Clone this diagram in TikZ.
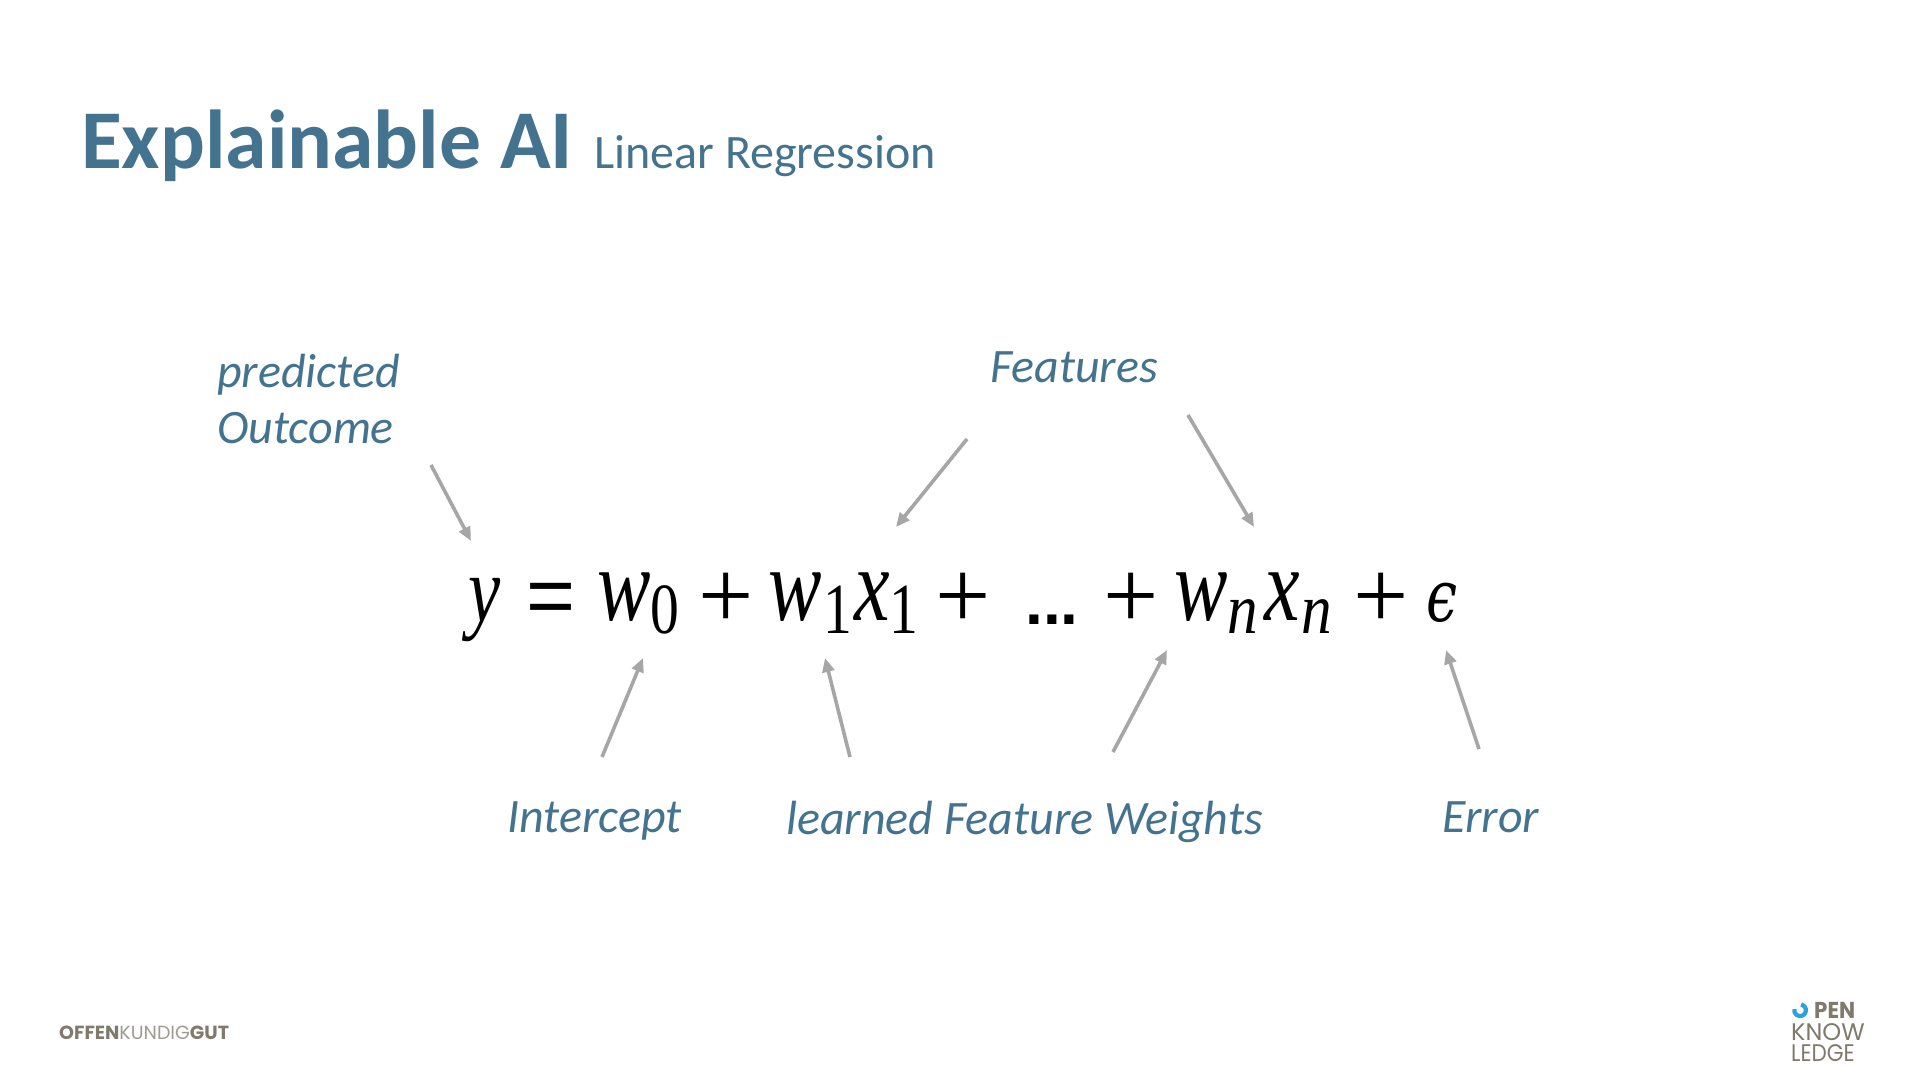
\documentclass[tikz,border=0pt]{standalone}
\usepackage{fontspec}
\setmainfont{Carlito}
\newfontfamily\eqfont{Liberation Serif}
\newfontfamily\opfont{Liberation Sans}
\newfontfamily\logofont{Poppins}
\definecolor{titleblue}{HTML}{44738F}
\definecolor{arrowgray}{HTML}{A6A6A6}
\definecolor{logogray}{HTML}{7F7A6B}
\definecolor{logoblue}{HTML}{2AA3DC}
\usetikzlibrary{arrows.meta}
\tikzset{
  lab/.style={inner sep=0pt,anchor=base west,text=titleblue,font=\fontsize{48}{56}\selectfont\itshape},
  arr/.style={draw=arrowgray,line width=3.6pt,-{Stealth[length=14pt,width=12pt,inset=0pt]}},
  eqit/.style={inner sep=0pt,anchor=base west,font=\fontsize{104}{104}\selectfont\eqfont\itshape,xscale=.77,transform shape},
  eqsub/.style={inner sep=0pt,anchor=base west,font=\fontsize{72}{72}\selectfont\eqfont\itshape,xscale=.85,transform shape},
  eqsubn/.style={inner sep=0pt,anchor=base west,font=\fontsize{72}{72}\selectfont\eqfont,xscale=.8,transform shape},
  eqop/.style={inner sep=0pt,anchor=base,font=\fontsize{98}{98}\selectfont\eqfont},
  logo/.style={inner sep=0pt,anchor=base west,text=logogray},
}
\begin{document}
\begin{tikzpicture}[x=1pt,y=-1pt]
\useasboundingbox (0,0) rectangle (1920,1080);
\node[inner sep=0pt,anchor=base west,text=titleblue,font=\fontsize{83.6}{90}\selectfont\bfseries] (title) at (81,168) {Explainable AI};
\node[inner sep=0pt,anchor=base west,text=titleblue,font=\fontsize{48}{50}\selectfont] (sub) at (594,168) {Linear Regression};
\node[lab] (pred) at (217,387) {predicted};
\node[lab] (outc) at (217,443) {Outcome};
\node[lab] (feat) at (990,382) {Features};
\node[lab] (inter) at (507,832) {Intercept};
\node[lab] (weights) at (786,834) {learned Feature Weights};
\node[lab] (err) at (1442,832) {Error};
% equation
\node[eqit] (y) at (468,621) {\fontsize{94}{94}\selectfont y};
\node[eqop] (eq) at (551,624) {\opfont\fontsize{84}{84}\selectfont =};
\node[eqit] (w0) at (597,620) {w};
\node[eqsubn] (s0) at (650,633) {0};
\node[eqop] (p1) at (726,628) {+};
\node[eqit] (w1) at (768,620) {w};
\node[eqsubn] (s1) at (823,633) {1};
\node[eqit] (x1) at (854,620) {x};
\node[eqsubn] (s2) at (889,633) {1};
\node[eqop] (p2) at (963,628) {+};
\node[eqop] (dots) at (1052,624) {\opfont\bfseries\fontsize{64}{64}\selectfont...};
\node[eqop] (p3) at (1131,628) {+};
\node[eqit] (wn) at (1174,620) {w};
\node[eqsub] (sn) at (1227,633) {n};
\node[eqit] (xn) at (1264,620) {x};
\node[eqsub] (sn2) at (1301,633) {n};
\node[eqop] (p4) at (1381,628) {+};
\node[eqit] (eps) at (1426,621) {\fontspec{DejaVu Serif}\fontsize{72}{72}\selectfont\itshape ϵ};
% arrows
\coordinate (a1) at (431,465); \coordinate (b1) at (471,541);
\coordinate (a2) at (967,439); \coordinate (b2) at (896,527);
\coordinate (a3) at (1188,415); \coordinate (b3) at (1254,527);
\coordinate (a4) at (602,757); \coordinate (b4) at (643,658);
\coordinate (a5) at (850,757); \coordinate (b5) at (825,658);
\coordinate (a6) at (1113,752); \coordinate (b6) at (1167,650);
\coordinate (a7) at (1479,749); \coordinate (b7) at (1446,650);
\foreach \i in {1,...,7} {\draw[arr] (a\i) -- (b\i);}
% logos
\node[logo,font=\fontsize{19}{19}\selectfont\logofont] (lg1) at (59,1039)
  {\textbf{OFFEN}\textcolor{logogray!75}{KUNDIG}\textbf{GUT}};
\draw[logoblue,line width=4.2pt] (1801.1,1004.5) arc (-80:190:5.8);
\node[logo,font=\fontsize{23}{23}\selectfont\logofont\bfseries,xscale=.93,transform shape] (lg2) at (1814,1018) {PEN};
\node[logo,font=\fontsize{24}{24}\selectfont\logofont] (lg3) at (1791,1040) {KNOW};
\node[logo,font=\fontsize{24}{24}\selectfont\logofont,xscale=.9,transform shape] (lg4) at (1791,1061) {LEDGE};
\end{tikzpicture}
\end{document}
